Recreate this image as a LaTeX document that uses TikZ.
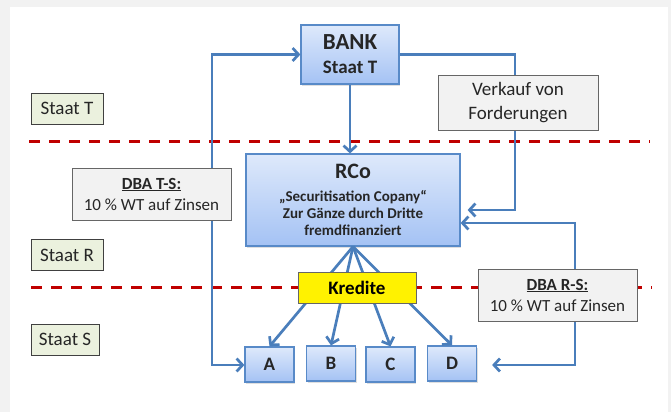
\documentclass[tikz,border=0pt]{standalone}
\usepackage{fontspec}
\setmainfont{Carlito}
\usepackage{tikz}
\usetikzlibrary{shapes,arrows.meta,positioning,shadows}
\definecolor{lineblue}{RGB}{74,126,187}
\definecolor{boxblue}{RGB}{88,138,200}
\definecolor{bluetop}{RGB}{222,233,251}
\definecolor{bluebot}{RGB}{164,194,244}
\definecolor{dashred}{RGB}{192,0,0}
\definecolor{staatfill}{RGB}{235,241,222}
\definecolor{notefill}{RGB}{242,242,242}

\begin{document}
\begin{tikzpicture}[x=1pt, y=-1pt,
    entity/.style={rectangle, draw=boxblue, line width=1.2pt, top color=bluetop, bottom color=bluebot, inner sep=0pt, align=center, text=black!85, drop shadow={shadow xshift=1.2pt, shadow yshift=-1.5pt, opacity=0.25}},
    note/.style={rectangle, draw=black!60, line width=1pt, fill=notefill, inner sep=0pt, align=center, text=black!85},
    staat/.style={rectangle, draw=black!75, line width=1pt, fill=staatfill, inner sep=0pt, minimum height=31pt, font=\fontsize{19}{23}\selectfont, text=black!85},
    border/.style={dashred, line width=3pt, dash pattern=on 11pt off 9pt},
    arrow/.style={->, >={Straight Barb[length=6pt, width=13pt]}, line width=2.7pt, draw=lineblue}
]
    \useasboundingbox (0,0) rectangle (671,412);
    \fill[black!5] (0,0) rectangle (671,412);
    \fill[white] (10,7) rectangle (668,412);

    % state borders
    \draw[border] (29,141) -- (650,141);
    \draw[border] (31,287) -- (652,287);

    \node[entity, minimum width=98pt, minimum height=59pt, font=\fontsize{19}{24}\selectfont\bfseries] (bank) at (350,54.5) {{\fontsize{23}{24}\selectfont BANK}\\Staat T};
    \node[entity, minimum width=214pt, minimum height=92pt, font=\fontsize{15}{17}\selectfont\bfseries] (rco) at (353,200) {{\fontsize{22}{23}\selectfont RCo}\\[6pt]„Securitisation Copany“\\Zur Gänze durch Dritte\\fremdfinanziert};
    \foreach \k/\x/\y in {A/269.5/364.5, B/331/363.5, C/390.5/364.5, D/452/363.5}
        \node[entity, minimum width=49pt, minimum height=35pt, font=\fontsize{19}{23}\selectfont\bfseries] (\k) at (\x,\y) {\k};

    \node[staat, minimum width=72pt] (staatT) at (67,108.5) {Staat T};
    \node[staat, minimum width=72pt] (staatR) at (67,255) {Staat R};
    \node[staat, minimum width=68pt] (staatS) at (65,339.5) {Staat S};

    % connectors
    \coordinate (ts) at (212,365);
    \coordinate (vk) at (515,210);
    \coordinate (rs) at (575,223);
    \coordinate (rsd) at (575,365);
    \draw[arrow] (bank.south) -- (bank.south |- rco.north);
    \draw[arrow, <->] (bank.west) -| (ts) -- (A.west |- ts);
    \draw[arrow, shorten >=7pt] (bank.east) -| (vk) -- (vk -| rco.east);
    \draw[arrow, <->, shorten >=15pt] (rco.east |- rs) -- (rs) -- (rsd) -- (D.east |- rsd);
    \foreach \k in {A,B,C,D}
        \draw[arrow] (rco.south) -- (\k.north);

    \node[note, minimum width=160pt, minimum height=55pt, font=\fontsize{19}{24}\selectfont] (verkauf) at (518,102.5) {Verkauf von\\Forderungen};
    \node[note, minimum width=159pt, minimum height=52pt, font=\fontsize{17}{21}\selectfont] (dbaTS) at (151.5,194) {\textbf{\underline{DBA T-S:}}\\10 \% WT auf Zinsen};
    \node[note, minimum width=159pt, minimum height=52pt, font=\fontsize{17}{21}\selectfont] (dbaRS) at (557.5,295) {\textbf{\underline{DBA R-S:}}\\10 \% WT auf Zinsen};
    \node[rectangle, draw=black!60, line width=1pt, fill=yellow, inner sep=0pt, minimum width=118pt, minimum height=31pt, font=\fontsize{19}{23}\selectfont\bfseries] (kredite) at (357,287.5) {Kredite};
\end{tikzpicture}
\end{document}
